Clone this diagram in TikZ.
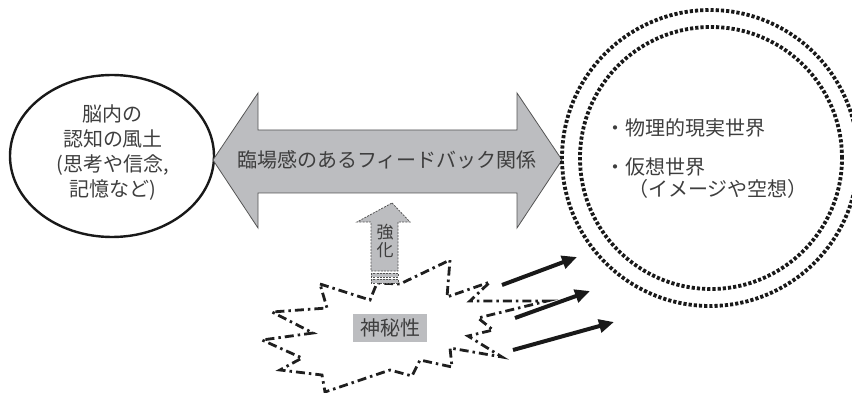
\documentclass[tikz,border=0pt]{standalone}
\usepackage{fontspec}
\setmainfont{Noto Sans CJK JP}
\usetikzlibrary{arrows.meta,shapes.geometric}
\definecolor{agray}{RGB}{188,189,192}
\definecolor{tgray}{RGB}{62,62,62}
\definecolor{bgray}{RGB}{85,85,85}
\tikzset{
  jtext/.style={text=tgray,font=\fontsize{20}{25}\selectfont,inner sep=0pt,align=center},
  ovalbox/.style={draw=black!90,line width=2.4pt},
  dotring/.style={draw=black!90,line width=3.8pt,dash pattern=on 3.2pt off 2pt},
  bigarrowshape/.style={fill=agray,draw=bgray,line width=0.8pt},
  smallarrowshape/.style={fill=agray,draw=bgray,line width=0.8pt,dash pattern=on 2pt off 1.2pt},
  burst/.style={draw=black!88,line width=2.8pt,dash pattern=on 9pt off 4pt on 2.5pt off 4pt},
  blackarrow/.style={draw=black!90,line width=4pt,-{Triangle[length=15pt,width=13pt]}},
  graylabel/.style={fill=agray,text=tgray,font=\fontsize{20}{24}\selectfont,minimum width=74pt,minimum height=28pt,inner sep=0pt}
}
\begin{document}
\begin{tikzpicture}[x=1pt,y=-1pt]
\useasboundingbox (0,0) rectangle (852,393);
% burst
\draw[burst] (320,284) -- (370,300) -- (377,283) -- (400,284) -- (450,260) -- (447,297)
  -- (490,282) -- (470,301) -- (547,301) -- (478,318) -- (493,330) -- (468,336)
  -- (502,357) -- (450,348) -- (452,367) -- (420,360) -- (412,376) -- (390,370)
  -- (325,392) -- (322,375) -- (280,370) -- (302,358) -- (262,340) -- (313,333)
  -- (272,312) -- (327,308) -- cycle;
% left ellipse
\node[ovalbox,ellipse,minimum width=204pt,minimum height=162pt,inner sep=0pt] (brain) at (112,156) {};
\node[jtext] (braintext) at (113,153) {脳内の\\認知の風土\\(思考や信念,\\記憶など)};
% double arrow
\draw[bigarrowshape] (213,160) -- (258,93) -- (258,130) -- (517,130) -- (517,93) -- (562,160)
  -- (517,228) -- (517,193) -- (258,193) -- (258,228) -- cycle;
\node[jtext] (feedback) at (387,160) {臨場感のあるフィードバック関係};
% dotted circles
\node[dotring,circle,minimum size=296pt,inner sep=0pt] (outer) at (710,158) {};
\node[dotring,circle,minimum size=262pt,inner sep=0pt] (inner) at (711,158) {};
\node[jtext,anchor=west] (w1) at (605,128) {・物理的現実世界};
\node[jtext,anchor=west] (w2) at (605,167) {・仮想世界};
\node[jtext,anchor=west] (w3) at (628,189) {（イメージや空想）};
% enhancement arrow
\draw[smallarrowshape] (392,203) -- (410,222) -- (398,222) -- (398,271) -- (371,271) -- (371,222) -- (357,222) -- cycle;
\draw[smallarrowshape] (371,273) rectangle (398,277);
\draw[smallarrowshape] (371,279) rectangle (398,283);
\node[jtext,font=\fontsize{17}{18}\selectfont] (k1) at (385,232) {強};
\node[jtext,font=\fontsize{17}{18}\selectfont] (k2) at (385,250) {化};
% mystery label
\node[graylabel] (mystery) at (390,328) {神秘性};
% black arrows
\coordinate (a1s) at (502,285); \coordinate (a1e) at (577,257);
\coordinate (a2s) at (515,318); \coordinate (a2e) at (590,291);
\coordinate (a3s) at (513,350); \coordinate (a3e) at (614,322);
\draw[blackarrow] (a1s) -- (a1e);
\draw[blackarrow] (a2s) -- (a2e);
\draw[blackarrow] (a3s) -- (a3e);
\end{tikzpicture}
\end{document}
